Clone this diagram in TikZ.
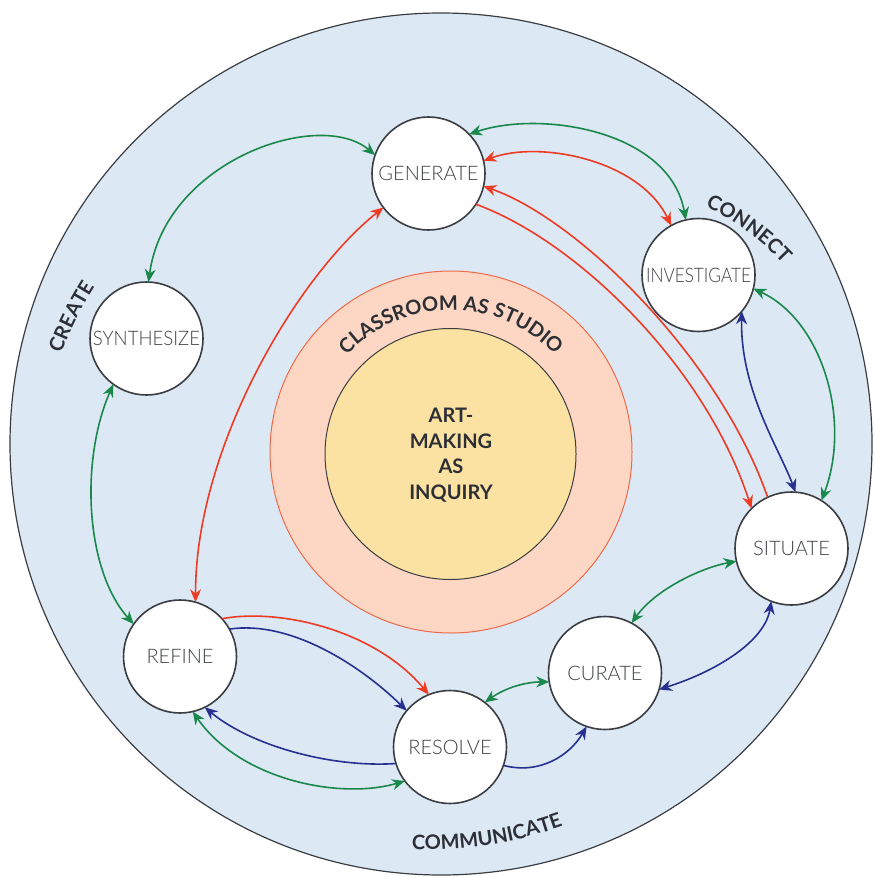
\documentclass[tikz,border=0pt]{standalone}
\usepackage{fontspec}
\usepackage{graphicx}
\setmainfont{Lato}
\newfontfamily\lightfont{Lato Light}
\usetikzlibrary{arrows.meta,decorations.text}

\definecolor{bgblue}{HTML}{DCE9F5}
\definecolor{ringfill}{HTML}{FDD7C3}
\definecolor{ringline}{HTML}{EF6A4A}
\definecolor{corefill}{HTML}{FCE2A2}
\definecolor{edge}{HTML}{3A3D42}
\definecolor{ink}{HTML}{2C2F35}
\definecolor{nodeink}{HTML}{3E4146}
\definecolor{agreen}{HTML}{19884A}
\definecolor{ared}{HTML}{EE3B24}
\definecolor{ablue}{HTML}{28308F}

\tikzset{
  stage/.style={circle, draw=edge, line width=1.6pt, fill=white,
    minimum size=113pt, inner sep=0pt, outer sep=0pt,
    font=\lightfont\fontsize{20}{24}\selectfont, text=nodeink},
  link/.style={line width=1.6pt, >={Stealth[length=13pt,width=11pt]}},
  glink/.style={link, agreen},
  rlink/.style={link, ared},
  blink/.style={link, ablue},
  arclabel/.style={decorate, decoration={text along path, text align=center,
    text color=ink, text={|\bfseries\fontsize{20}{20}\selectfont|#1}}}
}

\begin{document}
\begin{tikzpicture}[x=1pt, y=1pt]
\useasboundingbox (0,0) rectangle (874,-877);

% outer field, studio ring and core
\node[circle, draw=edge, line width=1.2pt, fill=bgblue, minimum size=862pt,
  inner sep=0pt] (field) at (441,-444) {};
\node[circle, draw=ringline, line width=1pt, fill=ringfill, minimum size=362pt,
  inner sep=0pt] (studio) at (451,-452) {};
\node[circle, draw=edge, line width=1pt, fill=corefill, minimum size=251pt,
  inner sep=0pt] (coreback) at (450.5,-454) {};
\node[align=center, font=\bfseries\fontsize{20}{25.5}\selectfont, text=ink]
  (core) at (451,-455) {ART-\\MAKING\\AS\\INQUIRY};

% curved labels
\path[arclabel={CLASSROOM AS STUDIO}]
  ([shift={(150:142)}]451,-452) arc[start angle=150, end angle=30, radius=142];
\path[arclabel={CREATE}]
  ([shift={(183.4:373)}]409.8,-486.1) arc[start angle=183.4, end angle=123.4, radius=373];
\path[arclabel={CONNECT}]
  ([shift={(80:253)}]598.2,-436.3) arc[start angle=80, end angle=28, radius=253];
\path[arclabel={COMMUNICATE}]
  ([shift={(258.7:404)}]427.4,-445.5) arc[start angle=258.7, end angle=298.7, radius=404];

% stages
\node[stage] (gen) at (428.5,-173.5) {GENERATE};
\node[stage] (inv) at (698.5,-275) {\scalebox{0.86}[1]{INVESTIGATE}};
\node[stage] (syn) at (146.5,-338.5) {\scalebox{0.93}[1]{SYNTHESIZE}};
\node[stage] (sit) at (791.5,-548.5) {SITUATE};
\node[stage] (ref) at (180,-656.5) {REFINE};
\node[stage] (res) at (450,-747) {RESOLVE};
\node[stage] (cur) at (605,-673) {CURATE};

% green links
\draw[glink, <->] (gen.161.6) .. controls (320,-108) and (165,-160) .. (syn.88.5);
\draw[glink, <->] (gen.44.3) .. controls (540,-110) and (670,-130) .. (inv.103);
\draw[glink, <->] (syn.234.6) .. controls (80,-460) and (85,-570) .. (ref.145);
\draw[glink, <->] (ref.283.7) .. controls (240,-780) and (340,-800) .. (res.217);
\draw[glink, <->] (res.52) .. controls (505,-688) and (525,-682) .. (cur.189);
\draw[glink, <->] (cur.62) .. controls (655,-590) and (700,-568) .. (sit.193);
\draw[glink, <->] (inv.-14.4) .. controls (822,-320) and (852,-420) .. (sit.58.5);

% red links
\draw[rlink, <->] (gen.13.4) .. controls (540,-140) and (640,-160) .. (inv.119.7);
\draw[rlink, ->] (sit.115.4) .. controls (720,-360) and (580,-220) .. (gen.-13);
\draw[rlink, ->] (gen.-33.3) .. controls (575,-240) and (705,-365) .. (sit.135);
\draw[rlink, <->] (gen.217) .. controls (295,-278) and (195,-450) .. (ref.74.7);
\draw[rlink, ->] (ref.42.6) .. controls (280,-608) and (375,-630) .. (res.112);

% blue links
\draw[blink, ->] (ref.29.7) .. controls (290,-620) and (360,-665) .. (res.140.6);
\draw[blink, ->] (res.197.8) .. controls (330,-768) and (250,-745) .. (ref.296);
\draw[blink, ->] (res.-19) .. controls (540,-775) and (570,-755) .. (cur.251);
\draw[blink, <->] (cur.-17) .. controls (720,-670) and (765,-640) .. (sit.249);
\draw[blink, <->] (inv.-40.5) .. controls (740,-390) and (780,-450) .. (sit.86.6);
\end{tikzpicture}
\end{document}
